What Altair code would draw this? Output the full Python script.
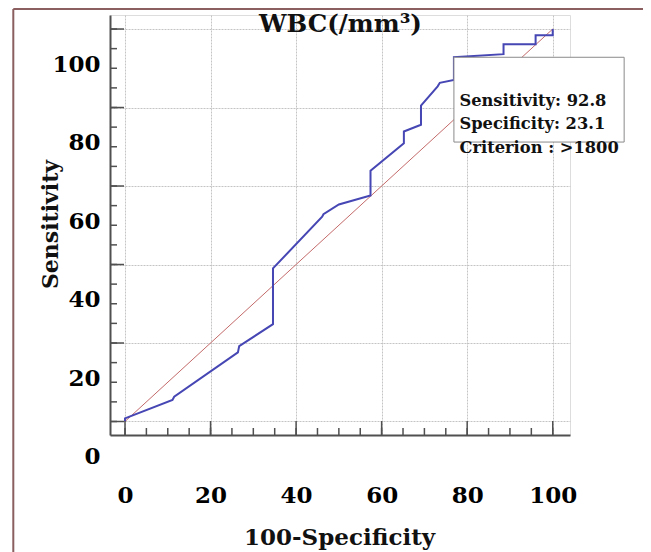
import altair as alt
import pandas as pd

# ROC curve vertices (100-Specificity, Sensitivity)
fpr = [0, 0, 11.1, 11.5, 26.4, 26.7, 34.6, 34.6, 46.1, 46.4, 50.0, 57.4, 57.4,
       65.2, 65.2, 69.2, 69.2, 73.1, 73.6, 76.9, 76.9, 88.5, 88.5, 96.0, 96.0,
       100, 100]
sens = [0, 0.8, 5.5, 6.3, 17.6, 19.2, 24.8, 39.0, 52.2, 52.8, 55.3, 57.6, 63.9,
        70.9, 73.9, 75.6, 80.5, 85.4, 86.3, 87.0, 92.8, 93.6, 96.1, 96.1, 98.4,
        98.4, 100]
diag = [0, 100]
grid_ticks = [0, 20, 40, 60, 80, 100]
minor_ticks = list(range(0, 101, 5))
crit_spec = 23.1
crit_sens = 92.8
box_x2 = 116.7
box_y2 = 71.2
info_lines = ["Sensitivity: 92.8", "Specificity: 23.1", "Criterion : >1800"]
title_text = "WBC(/mm³)"
x_title = "100-Specificity"
y_title = "Sensitivity"

FONT = "DejaVu Serif"
AX = "#505050"

xs = alt.Scale(domain=[-3.507, 104.04], nice=False, zero=False)
ys = alt.Scale(domain=[-3.44, 103.57], nice=False, zero=False)

xaxis = alt.Axis(values=grid_ticks, title=None, grid=True, ticks=False, tickSize=0,
                 domain=True, domainColor=AX, domainWidth=2,
                 labelFont=FONT, labelFontSize=23, labelFontWeight="bold",
                 labelColor="black", labelPadding=49, labelBaseline="top",
                 labelFlush=False, labelOverlap=False, format="d",
                 gridColor="#c4c4c4", gridDash=[2, 1], gridWidth=1)
yaxis = alt.Axis(values=grid_ticks, title=None, grid=True, ticks=False, tickSize=0,
                 domain=True, domainColor=AX, domainWidth=2,
                 labelFont=FONT, labelFontSize=23, labelFontWeight="bold",
                 labelColor="black", labelPadding=10, labelAlign="right",
                 labelBaseline="middle", labelOffset=35, labelBound=False,
                 labelFlush=False, labelOverlap=False, format="d",
                 gridColor="#c4c4c4", gridDash=[2, 1], gridWidth=1)


def X(f):
    return alt.X(f, type="quantitative", scale=xs, axis=xaxis)


def Y(f):
    return alt.Y(f, type="quantitative", scale=ys, axis=yaxis)


curve_df = pd.DataFrame({"x": fpr, "y": sens, "i": range(len(fpr))})
diag_df = pd.DataFrame({"x": diag, "y": diag, "i": [0, 1]})
minor_df = pd.DataFrame({"v": minor_ticks})
major_df = pd.DataFrame({"v": grid_ticks})
crit_df = pd.DataFrame({"x": [100 - crit_spec], "y": [crit_sens],
                        "x2": [box_x2], "y2": [box_y2]})
one = pd.DataFrame({"a": [0]})

diag_line = alt.Chart(diag_df).mark_line(color="#c46a6a", strokeWidth=1).encode(
    x=X("x"), y=Y("y"), order="i:Q")
curve = alt.Chart(curve_df).mark_line(color="#4646b4", strokeWidth=2).encode(
    x=X("x"), y=Y("y"), order="i:Q")

ytick_minor = alt.Chart(minor_df).mark_rule(color=AX, strokeWidth=1.5).encode(
    y=Y("v"), x=alt.value(0), x2=alt.value(7))
ytick_major = alt.Chart(major_df).mark_rule(color=AX, strokeWidth=1.5).encode(
    y=Y("v"), x=alt.value(0), x2=alt.value(14))
xtick_minor = alt.Chart(minor_df).mark_rule(color=AX, strokeWidth=1.5).encode(
    x=X("v"), y=alt.value(420), y2=alt.value(413))
xtick_major = alt.Chart(major_df).mark_rule(color=AX, strokeWidth=1.5).encode(
    x=X("v"), y=alt.value(420), y2=alt.value(406))

box = alt.Chart(crit_df).mark_rect(fill="white", stroke="#8a8a8a", strokeWidth=1).encode(
    x=X("x"), x2="x2", y=Y("y"), y2="y2")

info = []
for k, line in enumerate(info_lines):
    info.append(alt.Chart(crit_df).mark_text(
        align="left", baseline="alphabetic", dx=5.5, dy=49 + 23.2 * k,
        font=FONT, fontSize=16.3, fontWeight="bold", color="#111").encode(
        x=X("x"), y=Y("y"), text=alt.value(line)))

title = alt.Chart(one).mark_text(
    font=FONT, fontSize=24.5, fontWeight="bold", color="#111",
    align="center", baseline="alphabetic").encode(
    x=alt.value(230.5), y=alt.value(16.7), text=alt.value(title_text))
xt = alt.Chart(one).mark_text(
    font=FONT, fontSize=23, fontWeight="bold", color="#111",
    align="center", baseline="alphabetic").encode(
    x=alt.value(229.6), y=alt.value(530), text=alt.value(x_title))
yt = alt.Chart(one).mark_text(
    font=FONT, fontSize=22, fontWeight="bold", color="#111", angle=270,
    align="center", baseline="alphabetic").encode(
    x=alt.value(-52.5), y=alt.value(209.5), text=alt.value(y_title))

frame_left = alt.Chart(one).mark_rule(color="#8b5f5f", strokeWidth=2).encode(
    x=alt.value(-96.7), y=alt.value(-6), y2=alt.value(560))
frame_top = alt.Chart(one).mark_rule(color="#8b5f5f", strokeWidth=2).encode(
    x=alt.value(-96.7), x2=alt.value(560), y=alt.value(-6))

chart = alt.layer(
    diag_line, curve, ytick_minor, ytick_major, xtick_minor, xtick_major,
    box, *info, title, xt, yt, frame_left, frame_top
).properties(
    width=460, height=420,
    autosize=alt.AutoSizeParams(type="none"),
    padding={"left": 102, "top": 7, "right": 73, "bottom": 117},
).configure_view(stroke=None).configure(background="white")

chart.save("out.html", embed_options={"renderer": "svg", "actions": False})
